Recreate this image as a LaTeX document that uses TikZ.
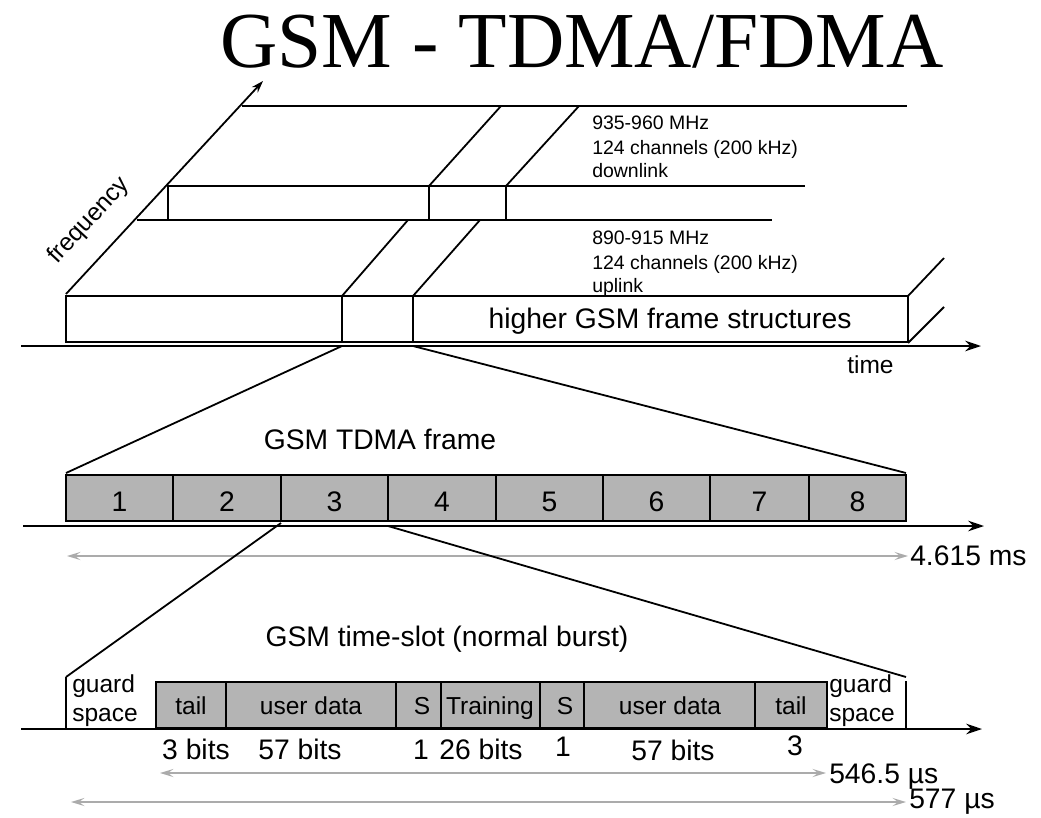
\documentclass[tikz,border=0pt]{standalone}
\usepackage{fontspec}
\setmainfont{Liberation Sans}
\newfontfamily\titlefont{Liberation Serif}
\usetikzlibrary{arrows.meta}
\definecolor{slotgray}{HTML}{B4B4B4}
\definecolor{dimgray}{HTML}{ABABAB}
\tikzset{
  ln/.style={line width=1.35pt, line join=miter},
  axisline/.style={line width=1.6pt, -{Stealth[length=12pt,width=8pt,inset=4pt]}},
  freqaxis/.style={line width=1.35pt, -{Stealth[length=9pt,width=6pt,inset=3pt]}},
  dimline/.style={dimgray, line width=1.8pt, {Stealth[length=10pt,width=6pt,inset=4pt]}-{Stealth[length=10pt,width=6pt,inset=4pt]}},
  slotbox/.style={ln, fill=slotgray},
  bigtxt/.style={font=\fontsize{21.2}{25}\selectfont, inner sep=0pt},
  midtxt/.style={font=\fontsize{18.4}{22}\selectfont, inner sep=0pt},
  smalltxt/.style={font=\fontsize{14.6}{18}\selectfont, inner sep=0pt, anchor=base west},
  titletxt/.style={font=\titlefont\fontsize{59.5}{70}\selectfont, inner sep=0pt, anchor=base},
}
\begin{document}
\begin{tikzpicture}[x=0.75pt,y=-0.75pt]
\useasboundingbox (0,0) rectangle (1041,817);

% title
\node[titletxt] (title) at (582,68) {GSM - TDMA/FDMA};

% ---------- frequency / time plane ----------
\coordinate (f0) at (66,294);
\coordinate (f1) at (263,81);
\draw[freqaxis] (f0) -- (f1);
\node[midtxt, rotate=47.2] (freq) at (89,221) {frequency};

% downlink plane
\draw[ln] (242,106) -- (907,106);
\draw[ln] (167,186) -- (805,186);
\draw[ln] (137,220) -- (772,220);
\draw[ln] (168,186) -- (168,220);
\draw[ln] (429,186) -- (429,220);
\draw[ln] (506,186) -- (506,220);
\draw[ln] (429,186) -- (501,106);
\draw[ln] (506,186) -- (579,106);

\node[smalltxt] (dl1) at (592,129) {935-960 MHz};
\node[smalltxt] (dl2) at (592,154) {124 channels (200 kHz)};
\node[smalltxt] (dl3) at (592,177) {downlink};

\node[smalltxt] (ul1) at (592,244) {890-915 MHz};
\node[smalltxt] (ul2) at (592,269) {124 channels (200 kHz)};
\node[smalltxt] (ul3) at (592,292) {uplink};

% uplink box
\draw[ln] (66,296) rectangle (908,342);
\draw[ln] (342,296) -- (342,342);
\draw[ln] (413,296) -- (413,342);
\draw[ln] (342,296) -- (408,220);
\draw[ln] (413,296) -- (480,220);
\draw[ln] (908,296) -- (944,258);
\draw[ln] (908,343) -- (944,307);
\node[bigtxt, anchor=base] (higher) at (670,328) {higher GSM frame structures};

% time axis
\coordinate (t0) at (21,346);
\coordinate (t1) at (981,346);
\draw[axisline] (t0) -- (t1);
\node[midtxt, anchor=base west] (time) at (847,373) {time};

% zoom lines to TDMA frame
\coordinate (zA) at (342,346);
\coordinate (zB) at (413,346);
\coordinate (frTL) at (66,473);
\coordinate (frTR) at (906,473);
\draw[ln] (zA) -- (frTL);
\draw[ln] (zB) -- (frTR);

% ---------- TDMA frame ----------
\node[bigtxt, anchor=base] (tdmalabel) at (380,449) {GSM TDMA frame};
\foreach \a/\b/\n in {66/173/1,173/281/2,281/388/3,388/496/4,496/603/5,603/710/6,710/809/7,809/906/8}{
  \draw[slotbox] (\a,475) rectangle (\b,521);
  \node[bigtxt, anchor=base] (slot\n) at ({(\a+\b)/2},511) {\n};
}
\coordinate (a0) at (23,526);
\coordinate (a1) at (984,526);
\draw[axisline] (a0) -- (a1);

\coordinate (m0) at (67,556);
\coordinate (m1) at (908,556);
\draw[dimline] (m0) -- (m1);
\node[bigtxt, anchor=base west] (ms) at (910,565) {4.615 ms};

% zoom lines to burst
\coordinate (zC) at (281,523);
\coordinate (zD) at (388,526);
\coordinate (gL) at (66,677);
\coordinate (gR) at (906,677);
\draw[ln] (zC) -- (gL);
\draw[ln] (zD) -- (gR);

% ---------- time slot ----------
\node[bigtxt, anchor=base] (burstlabel) at (447,646) {GSM time-slot (normal burst)};
\draw[ln] (gL) -- (66,729);
\draw[ln] (906,681) -- (906,729);
\node[midtxt, anchor=base west] (gsl1) at (72,692) {guard};
\node[midtxt, anchor=base west] (gsl2) at (72,721) {space};
\node[midtxt, anchor=base west] (gsr1) at (829,692) {guard};
\node[midtxt, anchor=base west] (gsr2) at (829,721) {space};

\foreach \a/\b/\c/\t/\k in {156/226/191/tail/1,226/396/311/user data/2,396/441/422/S/3,441/540/490/Training/4,540/584/565/S/5,584/755/670/user data/6,755/827/791/tail/7}{
  \draw[slotbox] (\a,682) rectangle (\b,728);
  \node[midtxt, anchor=base] (part\k) at (\c,714) {\t};
}
\coordinate (b0) at (21,729);
\coordinate (b1) at (982,729);
\draw[axisline] (b0) -- (b1);

\node[bigtxt, anchor=base] (bits1) at (196,759) {3 bits};
\node[bigtxt, anchor=base] (bits2) at (300,759) {57 bits};
\node[bigtxt, anchor=base] (bits3) at (421,759) {1};
\node[bigtxt, anchor=base] (bits4) at (481,759) {26 bits};
\node[bigtxt, anchor=base] (bits5) at (563,756) {1};
\node[bigtxt, anchor=base] (bits6) at (673,760) {57 bits};
\node[bigtxt, anchor=base] (bits7) at (795,755) {3};

\coordinate (u0) at (160,773);
\coordinate (u1) at (826,773);
\draw[dimline] (u0) -- (u1);
\node[bigtxt, anchor=base west] (us1) at (829,783) {546.5 µs};

\coordinate (v0) at (71,802);
\coordinate (v1) at (906,802);
\draw[dimline] (v0) -- (v1);
\node[bigtxt, anchor=base west] (us2) at (909,808) {577 µs};
\end{tikzpicture}
\end{document}
